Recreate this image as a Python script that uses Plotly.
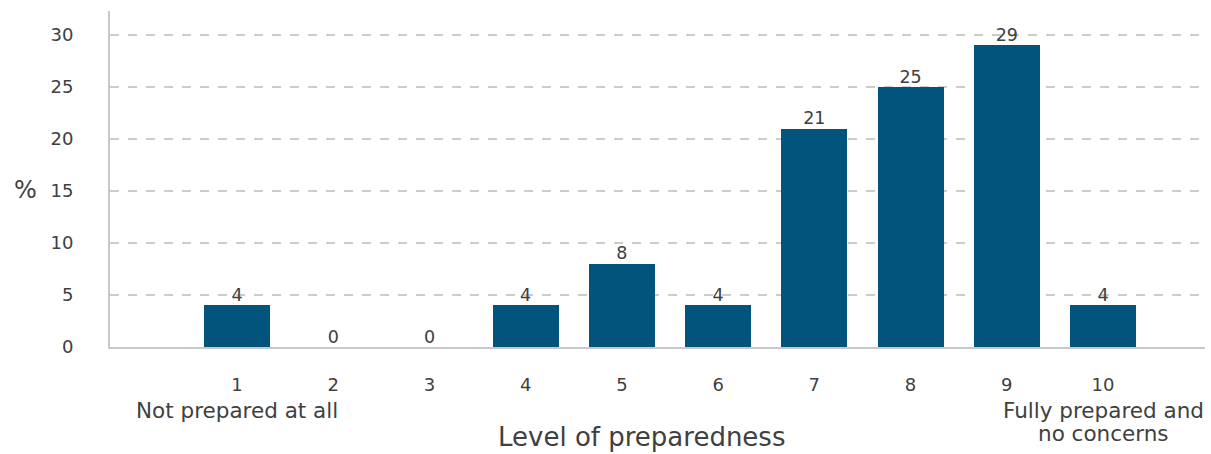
import plotly.graph_objects as go

categories = [1, 2, 3, 4, 5, 6, 7, 8, 9, 10]
values = [4, 0, 0, 4, 8, 4, 21, 25, 29, 4]
y_ticks = [0, 5, 10, 15, 20, 25, 30]

BAR = "#02547C"
TXT = "#404040"
FONT = "'DejaVu Sans', sans-serif"

fig = go.Figure()
fig.add_trace(go.Bar(x=categories, y=values, width=0.685, marker_color=BAR,
                     marker_line_width=0, hoverinfo="skip"))
fig.add_trace(go.Scatter(x=categories, y=values, mode="text",
                         text=[str(v) for v in values], textposition="top center",
                         textfont=dict(size=17.5, color=TXT, family=FONT),
                         hoverinfo="skip", cliponaxis=False))

fig.update_layout(
    width=1211, height=454,
    margin=dict(l=110, r=6, t=11, b=107),
    paper_bgcolor="white", plot_bgcolor="white",
    showlegend=False,
    font=dict(family=FONT, color=TXT, size=17),
    bargap=0,
)
fig.update_xaxes(
    type="linear", range=[-0.32, 11.06],
    tickvals=categories, ticktext=[str(c) for c in categories],
    showgrid=False, zeroline=False,
    showline=True, linecolor="#c8c8c8", linewidth=2,
    ticks="", ticklabelstandoff=20,
    tickfont=dict(size=18, color=TXT, family=FONT),
)
fig.update_yaxes(
    range=[0, 32.3], tickvals=y_ticks,
    showgrid=True, gridcolor="#cccccc", griddash="dash", gridwidth=1.5,
    zeroline=False,
    showline=True, linecolor="#c8c8c8", linewidth=2,
    ticks="", ticklabelstandoff=31,
    tickfont=dict(size=18, color=TXT, family=FONT),
)

fig.add_annotation(x=-85/1095, y=(347-190)/336, xref="paper", yref="paper", text="%",
                   showarrow=False, font=dict(size=24, color=TXT, family=FONT),
                   xanchor="center", yanchor="middle")
fig.add_annotation(x=1, y=-63/336, xref="x", yref="paper", text="Not prepared at all",
                   showarrow=False, font=dict(size=21.5, color=TXT, family=FONT),
                   xanchor="center", yanchor="middle")
fig.add_annotation(x=10, y=-63/336, xref="x", yref="paper",
                   text="Fully prepared and",
                   showarrow=False, font=dict(size=21.5, color=TXT, family=FONT),
                   xanchor="center", yanchor="middle")
fig.add_annotation(x=10, y=-86/336, xref="x", yref="paper",
                   text="no concerns",
                   showarrow=False, font=dict(size=21.5, color=TXT, family=FONT),
                   xanchor="center", yanchor="middle")
fig.add_annotation(x=(641-110)/1095, y=-90/336, xref="paper", yref="paper",
                   text="Level of preparedness",
                   showarrow=False, font=dict(size=26, color=TXT, family=FONT),
                   xanchor="center", yanchor="middle")

fig.write_html("out.html")
